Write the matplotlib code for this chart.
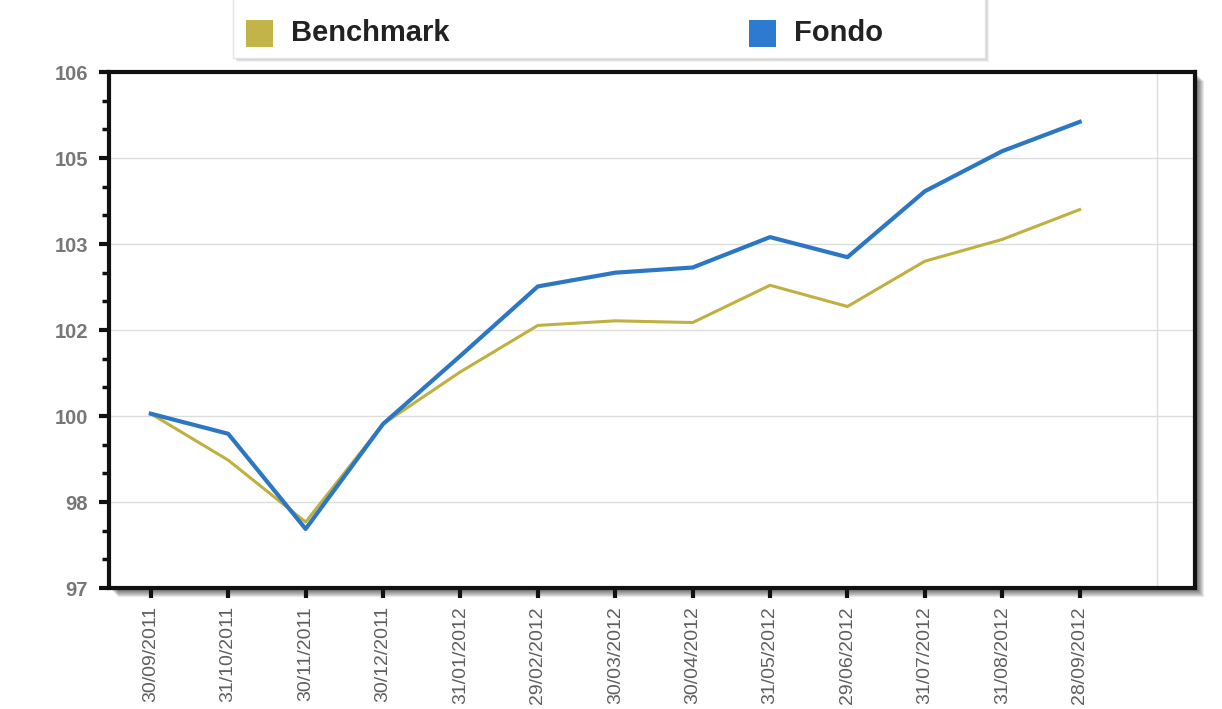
import matplotlib
matplotlib.use("Agg")
import matplotlib.pyplot as plt
from matplotlib.patches import Rectangle
import numpy as np

plt.rcParams['font.family'] = ['Liberation Sans', 'DejaVu Sans']

dates = ['30/09/2011', '31/10/2011', '30/11/2011', '30/12/2011', '31/01/2012', '29/02/2012',
         '30/03/2012', '30/04/2012', '31/05/2012', '29/06/2012', '31/07/2012', '31/08/2012', '28/09/2012']
fondo = [100.04, 99.69, 98.03, 99.86, 101.05, 102.26, 102.50, 102.59, 103.12, 102.77, 103.92, 104.62, 105.13]
benchmark = [100.04, 99.23, 98.15, 99.86, 100.77, 101.58, 101.66, 101.63, 102.28, 101.91, 102.70, 103.08, 103.60]
y_ticks = [97, 98.5, 100, 101.5, 103, 104.5, 106]
y_labels = ['97', '98', '100', '102', '103', '105', '106']

W, H = 1222, 709
fig = plt.figure(figsize=(W / 100, H / 100), dpi=100)
fig.patch.set_facecolor('white')

# plot area in pixels (left, top, right, bottom)
L, T, R, B = 109, 72, 1195, 588
ax = fig.add_axes([L / W, 1 - B / H, (R - L) / W, (B - T) / H])
ax.set_facecolor('white')

# soft shadow behind the frame
for i in range(1, 10):
    fig.add_artist(Rectangle(((L + i) / W, 1 - (B + i) / H), (R - L) / W, (B - T) / H,
                             transform=fig.transFigure, facecolor='black', edgecolor='none',
                             alpha=0.09, zorder=-5))

x = np.arange(len(dates))
ax.plot(x, benchmark, color='#bfb040', lw=2.2, zorder=3)
ax.plot(x, fondo, color='#2c77c4', lw=3.0, zorder=4)

ax.set_xlim(-0.54, 13.49)
ax.set_ylim(97, 106)

ax.set_xticks(x)
ax.set_xticklabels(dates, rotation=90, fontsize=14, color='#5f5f5f')
ax.set_xticks(np.arange(len(dates) + 1), minor=True)
ax.set_yticks(y_ticks)
ax.set_yticklabels(y_labels, fontsize=14.5, fontweight='bold', color='#777777')
ax.set_yticks(np.arange(97, 106.01, 0.5), minor=True)

ax.tick_params(axis='both', which='major', direction='out', length=7, width=3, color='#111111')
ax.tick_params(axis='y', which='major', pad=8)
ax.tick_params(axis='x', which='major', pad=6)
ax.tick_params(axis='y', which='minor', direction='out', length=5, width=2.5, color='#111111')
ax.tick_params(axis='x', which='minor', length=0)

ax.grid(axis='y', which='major', color='#dddddd', lw=1)
ax.grid(axis='x', which='minor', color='#dddddd', lw=1)
ax.set_axisbelow(True)

for s in ax.spines.values():
    s.set_linewidth(3)
    s.set_color('#111111')

# legend box on top
lx0, ly0, lx1, ly1 = 233, -5, 985, 58
for i in range(1, 5):
    fig.add_artist(Rectangle(((lx0 + i) / W, 1 - (ly1 + i) / H), (lx1 - lx0) / W, (ly1 - ly0) / H,
                             transform=fig.transFigure, facecolor='black', edgecolor='none',
                             alpha=0.06, zorder=5))
fig.add_artist(Rectangle((lx0 / W, 1 - ly1 / H), (lx1 - lx0) / W, (ly1 - ly0) / H,
                         transform=fig.transFigure, facecolor='white', edgecolor='#e4e4e4',
                         lw=1, zorder=6))

entries = [('Benchmark', '#c3b449', 246), ('Fondo', '#2d7bd0', 749)]
for name, col, px in entries:
    fig.add_artist(Rectangle((px / W, 1 - 47 / H), 27 / W, 27 / H, transform=fig.transFigure,
                             facecolor=col, edgecolor='none', zorder=7))
    fig.text((px + 45) / W, 1 - 33 / H, name, fontsize=21, fontweight='bold', color='#222222',
             va='center', ha='left', zorder=8)

fig.savefig('out.png', dpi=100)
